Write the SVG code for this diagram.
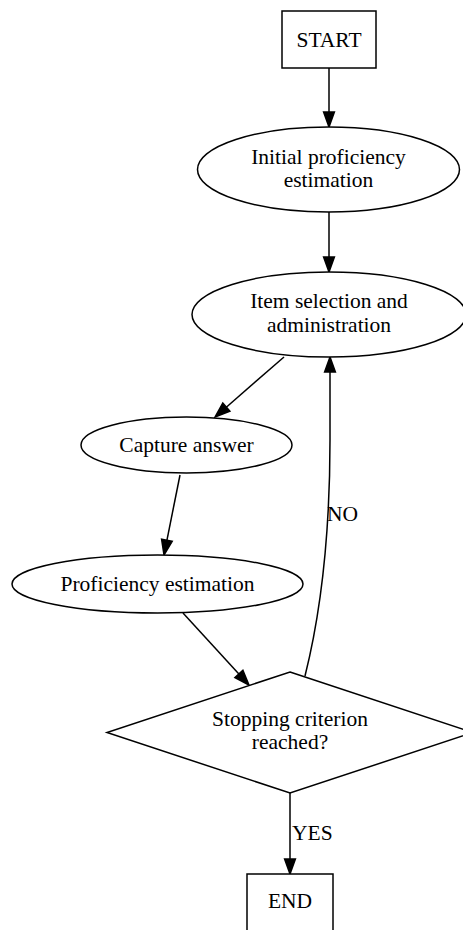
<svg xmlns="http://www.w3.org/2000/svg" width="463" height="930" viewBox="0 0 463 930">
<style>
.s{fill:#fff;stroke:#000;stroke-width:1.5}
.e{fill:none;stroke:#000;stroke-width:1.5}
.h{fill:#000;stroke:#000;stroke-width:1.5}
text{font-family:"Liberation Serif","Times New Roman",serif;font-size:21.5px;fill:#000}
.m{text-anchor:middle}
</style>
<rect width="463" height="930" fill="#fff"/>
<g id="edges">
<path class="e" d="M329,68 L329,112"/>
<polygon class="h" points="329,127 323.6,112 334.4,112"/>
<path class="e" d="M329,212 L329,257"/>
<polygon class="h" points="329,272 323.6,257 334.4,257"/>
<path class="e" d="M284,357 L226.3,407.2"/>
<polygon class="h" points="215,417 222.8,403.1 229.9,411.3"/>
<path class="e" d="M180,475 L166.9,540.3"/>
<polygon class="h" points="164,555 161.6,539.3 172.2,541.4"/>
<path class="e" d="M183,613 L238.9,673.9"/>
<polygon class="h" points="249,685 234.9,677.6 242.9,670.3"/>
<path class="e" d="M305,676 C319,620 330,540 330,440 L330,372"/>
<polygon class="h" points="330,357 324.6,372 335.4,372"/>
<text x="327" y="521">NO</text>
<path class="e" d="M290,793 L290,859"/>
<polygon class="h" points="290,874 284.6,859 295.4,859"/>
<text x="292" y="840">YES</text>
</g>
<g id="start">
<rect class="s" x="282" y="11" width="94" height="57"/>
<text class="m" x="329" y="46.5">START</text>
</g>
<g id="initial">
<ellipse class="s" cx="328.5" cy="169.5" rx="131" ry="42.5"/>
<text class="m" x="328.5" y="164">Initial proficiency</text>
<text class="m" x="328.5" y="187">estimation</text>
</g>
<g id="item">
<ellipse class="s" cx="329" cy="314.5" rx="137" ry="42.5"/>
<text class="m" x="329" y="308">Item selection and</text>
<text class="m" x="329" y="332">administration</text>
</g>
<g id="capture">
<ellipse class="s" cx="186.5" cy="445" rx="105.5" ry="28"/>
<text class="m" x="186.5" y="451.5">Capture answer</text>
</g>
<g id="proficiency">
<ellipse class="s" cx="157.5" cy="584" rx="145.5" ry="29"/>
<text class="m" x="157.5" y="591">Proficiency estimation</text>
</g>
<g id="stopping">
<polygon class="s" points="290,672 473,732.5 290,793 107,732.5"/>
<text class="m" x="290" y="726">Stopping criterion</text>
<text class="m" x="290" y="749">reached?</text>
</g>
<g id="end">
<rect class="s" x="247" y="874" width="86" height="58"/>
<text class="m" x="290" y="908">END</text>
</g>
</svg>
